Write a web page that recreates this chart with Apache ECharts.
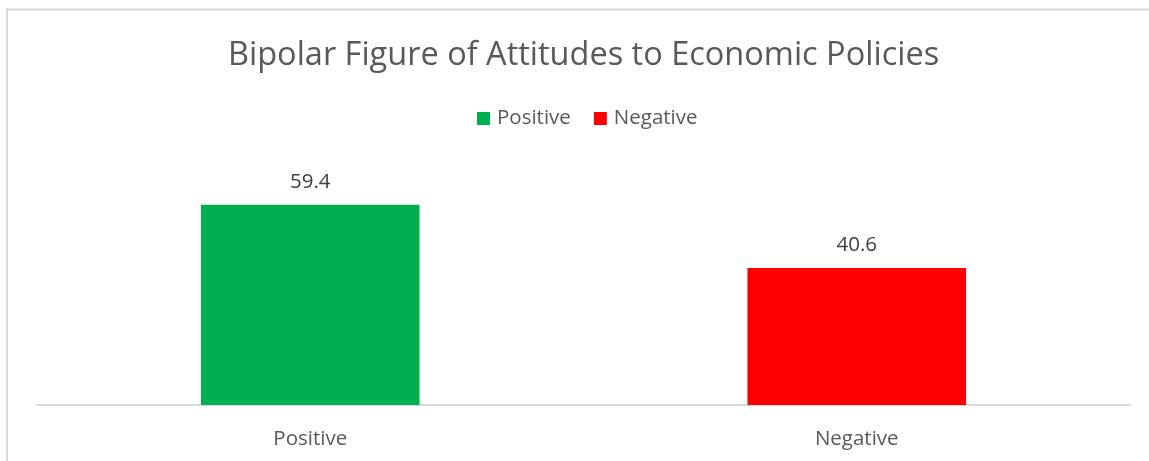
<!DOCTYPE html>
<html>
<head>
<meta charset="utf-8">
<script src="https://cdn.jsdelivr.net/npm/echarts@6/dist/echarts.min.js"></script>
<style>
html,body{margin:0;padding:0;background:#fff;}
#c{width:1149px;height:461px;}
</style>
</head>
<body>
<div id="c"></div>
<script>
const categories = ['Positive', 'Negative'];
const seriesNames = ['Positive', 'Negative'];
const values = [59.4, 40.6];
const colors = ['#00B050', '#FF0000'];

const chart = echarts.init(document.getElementById('c'));
const FONT = '"Open Sans", sans-serif';
const series = seriesNames.map((name, i) => ({
  name: name,
  type: 'bar',
  stack: 'all',
  barWidth: '40%',
  itemStyle: { color: colors[i] },
  label: { show: true, position: 'top', distance: 12, color: '#404040', fontSize: 20.5, fontFamily: FONT },
  data: categories.map((c, j) => (j === i ? values[i] : '-'))
}));

chart.setOption({
  animation: false,
  backgroundColor: '#fff',
  graphic: [{
    type: 'rect',
    shape: { x: 7, y: 9.5, width: 1300, height: 600 },
    style: { fill: 'none', stroke: '#d9d9d9', lineWidth: 2 },
    silent: true, z: -1
  }],
  title: {
    text: 'Bipolar Figure of Attitudes to Economic Policies',
    left: 223, top: 34,
    textStyle: { color: '#595959', fontSize: 32.5, fontWeight: 'normal', fontFamily: FONT }
  },
  legend: {
    top: 103, left: 472,
    itemWidth: 13, itemHeight: 13, itemGap: 23,
    icon: 'rect',
    textStyle: { color: '#595959', fontSize: 20.5, fontFamily: FONT, padding: [0, 0, 0, 2] },
    data: seriesNames
  },
  grid: { left: 37, right: 19, top: 169, bottom: 56, containLabel: false },
  xAxis: {
    type: 'category', data: categories,
    axisLine: { lineStyle: { color: '#d9d9d9', width: 2 } },
    axisTick: { show: false },
    axisLabel: { color: '#595959', fontSize: 20.5, fontFamily: FONT, margin: 24 }
  },
  yAxis: {
    type: 'value', min: 0, max: 70, interval: 10, show: false,
    splitLine: { show: false }
  },
  series: series
});
</script>
</body>
</html>
